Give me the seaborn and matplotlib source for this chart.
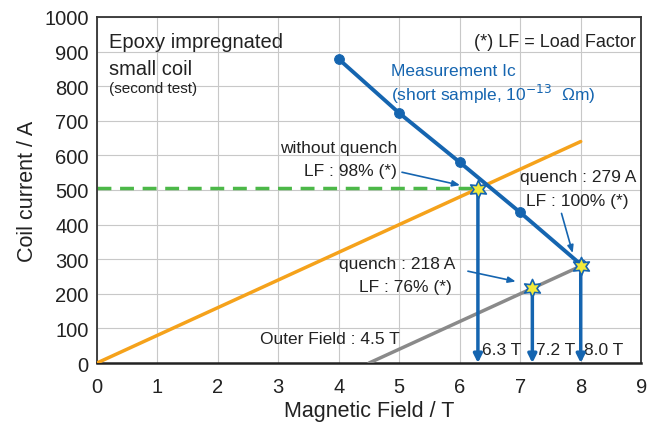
import pandas as pd
import matplotlib
matplotlib.use("Agg")
import matplotlib.pyplot as plt
import seaborn as sns

# Measured critical current (short sample)
campo_ic = [4, 5, 6, 7, 8]
corrente_ic = [878, 722, 580, 435, 285]

# Load line of the coil (self field) and with outer field 4.5 T
campo_carga = [0, 8]
corrente_carga = [0, 640]
campo_externo = [4.5, 8.0]
corrente_externo = [0, 280]

# Operating points (stars)
campo_pontos = [6.3, 7.2, 8.0]
corrente_pontos = [504, 218, 279]
rotulos_campo = ["6.3 T", "7.2 T", "8.0 T"]

# Green dashed level (without quench)
nivel_sem_quench = 505

sns.set_style("whitegrid", {"grid.color": "#c8c8c8", "axes.edgecolor": "#333333"})
plt.rcParams["font.family"] = ["Liberation Sans", "DejaVu Sans"]

fig = plt.figure(figsize=(6.59, 4.27), dpi=100)
ax = fig.add_axes([0.147, 0.1475, 0.826, 0.8105])

azul = "#1565b0"
laranja = "#f5a21b"
cinza = "#8a8a8a"
verde = "#4cb848"
texto = "#222222"
fs = 12.5

ax.plot([0, 6.2], [nivel_sem_quench, nivel_sem_quench], color=verde, lw=2.5,
        ls=(0, (4, 2.5)), zorder=2)
sns.lineplot(x=campo_carga, y=corrente_carga, ax=ax, color=laranja, lw=2.5, zorder=3)
sns.lineplot(x=campo_externo, y=corrente_externo, ax=ax, color=cinza, lw=2.5, zorder=3)
sns.lineplot(x=campo_ic, y=corrente_ic, ax=ax, color=azul, lw=2.8, marker="o",
             markersize=7, markeredgecolor=azul, zorder=4)

# setas para baixo a partir dos pontos de operação
for xp, yp, rot in zip(campo_pontos, corrente_pontos, rotulos_campo):
    ax.annotate("", xy=(xp, 0), xytext=(xp, yp - 20),
                arrowprops=dict(arrowstyle="-|>,head_length=0.5,head_width=0.25",
                                color=azul, lw=2.5, shrinkA=0, shrinkB=0), zorder=5)
    ax.text(xp + 0.06, 40, rot, fontsize=fs, color=texto, ha="left", va="center")

sns.scatterplot(x=campo_pontos, y=corrente_pontos, ax=ax, marker=(6, 1, 0), s=170,
                color="#f2ea3a", edgecolor=azul, linewidth=1.2, zorder=6)

# textos
ax.text(0.2, 930, "Epoxy impregnated", fontsize=14.5, va="center", color=texto)
ax.text(0.2, 852, "small coil", fontsize=14.5, va="center", color=texto)
ax.text(0.2, 795, "(second test)", fontsize=11, va="center", color=texto)
ax.text(8.92, 928, "(*) LF = Load Factor", fontsize=13, ha="right", va="center", color=texto)
ax.text(4.87, 845, "Measurement Ic", fontsize=fs, va="center", color=azul)
ax.text(4.87, 778, "(short sample, 10$^{-13}$  Ωm)", fontsize=fs, va="center", color=azul)

ax.text(4.0, 624, "without quench", fontsize=fs, ha="center", va="center", color=texto)
ax.text(4.2, 556, "LF : 98% (*)", fontsize=fs, ha="center", va="center", color=texto)
ax.annotate("", xy=(6.05, 512), xytext=(5.0, 553),
            arrowprops=dict(arrowstyle="-|>,head_length=0.45,head_width=0.18",
                            color=azul, lw=1.2))

ax.text(7.95, 540, "quench : 279 A", fontsize=fs, ha="center", va="center", color=texto)
ax.text(7.95, 470, "LF : 100% (*)", fontsize=fs, ha="center", va="center", color=texto)
ax.annotate("", xy=(7.88, 310), xytext=(7.67, 440),
            arrowprops=dict(arrowstyle="-|>,head_length=0.45,head_width=0.18",
                            color=azul, lw=1.2))

ax.text(4.97, 288, "quench : 218 A", fontsize=fs, ha="center", va="center", color=texto)
ax.text(5.1, 222, "LF : 76% (*)", fontsize=fs, ha="center", va="center", color=texto)
ax.annotate("", xy=(6.97, 234), xytext=(6.09, 267),
            arrowprops=dict(arrowstyle="-|>,head_length=0.45,head_width=0.18",
                            color=azul, lw=1.2))

ax.text(3.85, 72, "Outer Field : 4.5 T", fontsize=fs, ha="center", va="center", color=texto)

ax.set_xlim(0, 9)
ax.set_ylim(0, 1000)
ax.set_xticks(range(0, 10))
ax.set_yticks(range(0, 1001, 100))
ax.tick_params(labelsize=14.5, colors=texto, length=0)
ax.tick_params(axis="x", pad=10)
ax.tick_params(axis="y", pad=6)
ax.set_xlabel("Magnetic Field / T", fontsize=15.5, color=texto, labelpad=3)
ax.set_ylabel("Coil current / A", fontsize=15.5, color=texto, labelpad=4)
for lado in ["left", "right", "top"]:
    ax.spines[lado].set_color("#333333")
    ax.spines[lado].set_linewidth(1.3)
ax.spines["bottom"].set_color("#222222")
ax.spines["bottom"].set_linewidth(1.8)

fig.savefig("out.png", dpi=100)
